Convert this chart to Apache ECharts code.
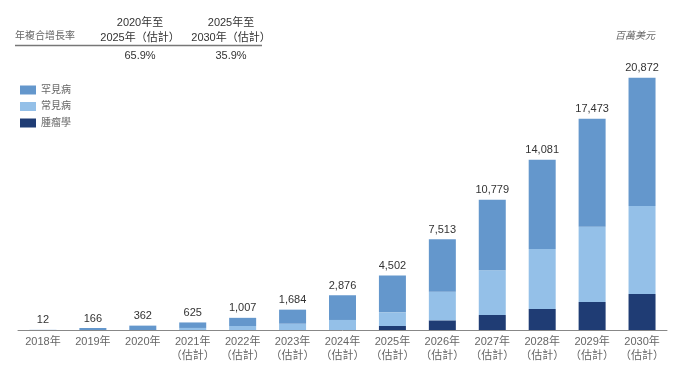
<!DOCTYPE html>
<html><head><meta charset="utf-8">
<script src="https://cdn.jsdelivr.net/npm/echarts@6/dist/echarts.min.js"></script>
<style>html,body{margin:0;padding:0;background:#fff}#c{width:675px;height:366px}</style>
</head><body><div id="c"></div>
<script>
const categories = ['2018年','2019年','2020年','2021年\n（估計）','2022年\n（估計）','2023年\n（估計）','2024年\n（估計）','2025年\n（估計）','2026年\n（估計）','2027年\n（估計）','2028年\n（估計）','2029年\n（估計）','2030年\n（估計）'];
const totals   = [12, 166, 362, 625, 1007, 1684, 2876, 4502, 7513, 10779, 14081, 17473, 20872];
const oncology = [0, 0, 0, 0, 0, 0, 0, 330, 800, 1240, 1740, 2320, 2980];
const common   = [0, 0, 0, 170, 330, 520, 830, 1130, 2370, 3700, 4970, 6235, 7290];
const rare     = [12, 166, 362, 455, 677, 1164, 2046, 3042, 4343, 5839, 7371, 8918, 10602];
const seriesNames = ['罕見病','常見病','腫瘤學'];
const cagrHeaders = ['2020年至\n2025年（估計）','2025年至\n2030年（估計）'];
const cagrValues = ['65.9%','35.9%'];
const colors = {rare:'#6497cc', common:'#94c0e8', onc:'#1f3c74'};
const font = '"Liberation Sans", Arial, "Noto Sans CJK TC", sans-serif';

const chart = echarts.init(document.getElementById('c'));
chart.setOption({
  animation:false,
  textStyle:{fontFamily:font},
  grid:{left:18,right:8,top:40,bottom:36},
  legend:{
    orient:'vertical', left:15, top:80, itemWidth:16, itemHeight:9, itemGap:6.5,
    data:seriesNames, textStyle:{fontSize:10,color:'#666',fontFamily:font},
    icon:'rect'
  },
  xAxis:{
    type:'category', data:categories,
    axisLine:{lineStyle:{color:'#888',width:1}},
    axisTick:{show:false},
    axisLabel:{color:'#666',fontSize:11,lineHeight:14,margin:5,interval:0,fontFamily:font}
  },
  yAxis:{type:'value',min:0,max:24000,show:false,splitLine:{show:false}},
  series:[
    {name:'腫瘤學',type:'bar',stack:'t',data:oncology,barWidth:27,itemStyle:{color:colors.onc}},
    {name:'常見病',type:'bar',stack:'t',data:common,itemStyle:{color:colors.common}},
    {name:'罕見病',type:'bar',stack:'t',data:rare,itemStyle:{color:colors.rare},
     label:{show:true,position:'top',distance:4,color:'#333',fontSize:11,fontFamily:font,
       formatter:p=>totals[p.dataIndex].toLocaleString('en-US')}}
  ],
  graphic:[
    {type:'text',left:15,top:31,style:{text:'年複合增長率',fontSize:10,fill:'#666',fontFamily:font}},
    {type:'text',x:140,y:15,style:{text:cagrHeaders[0],fontSize:11,fill:'#333',align:'center',lineHeight:15,fontFamily:font}},
    {type:'text',x:231,y:15,style:{text:cagrHeaders[1],fontSize:11,fill:'#333',align:'center',lineHeight:15,fontFamily:font}},
    {type:'line',shape:{x1:15,y1:45.5,x2:262,y2:45.5},style:{stroke:'#777',lineWidth:1.5}},
    {type:'text',x:140,y:50,style:{text:cagrValues[0],fontSize:11,fill:'#333',align:'center',fontFamily:font}},
    {type:'text',x:231,y:50,style:{text:cagrValues[1],fontSize:11,fill:'#333',align:'center',fontFamily:font}},
    {type:'text',right:20,top:31,style:{text:'百萬美元',fontSize:10,fill:'#666',fontStyle:'italic',fontFamily:font}}
  ]
});
</script></body></html>
